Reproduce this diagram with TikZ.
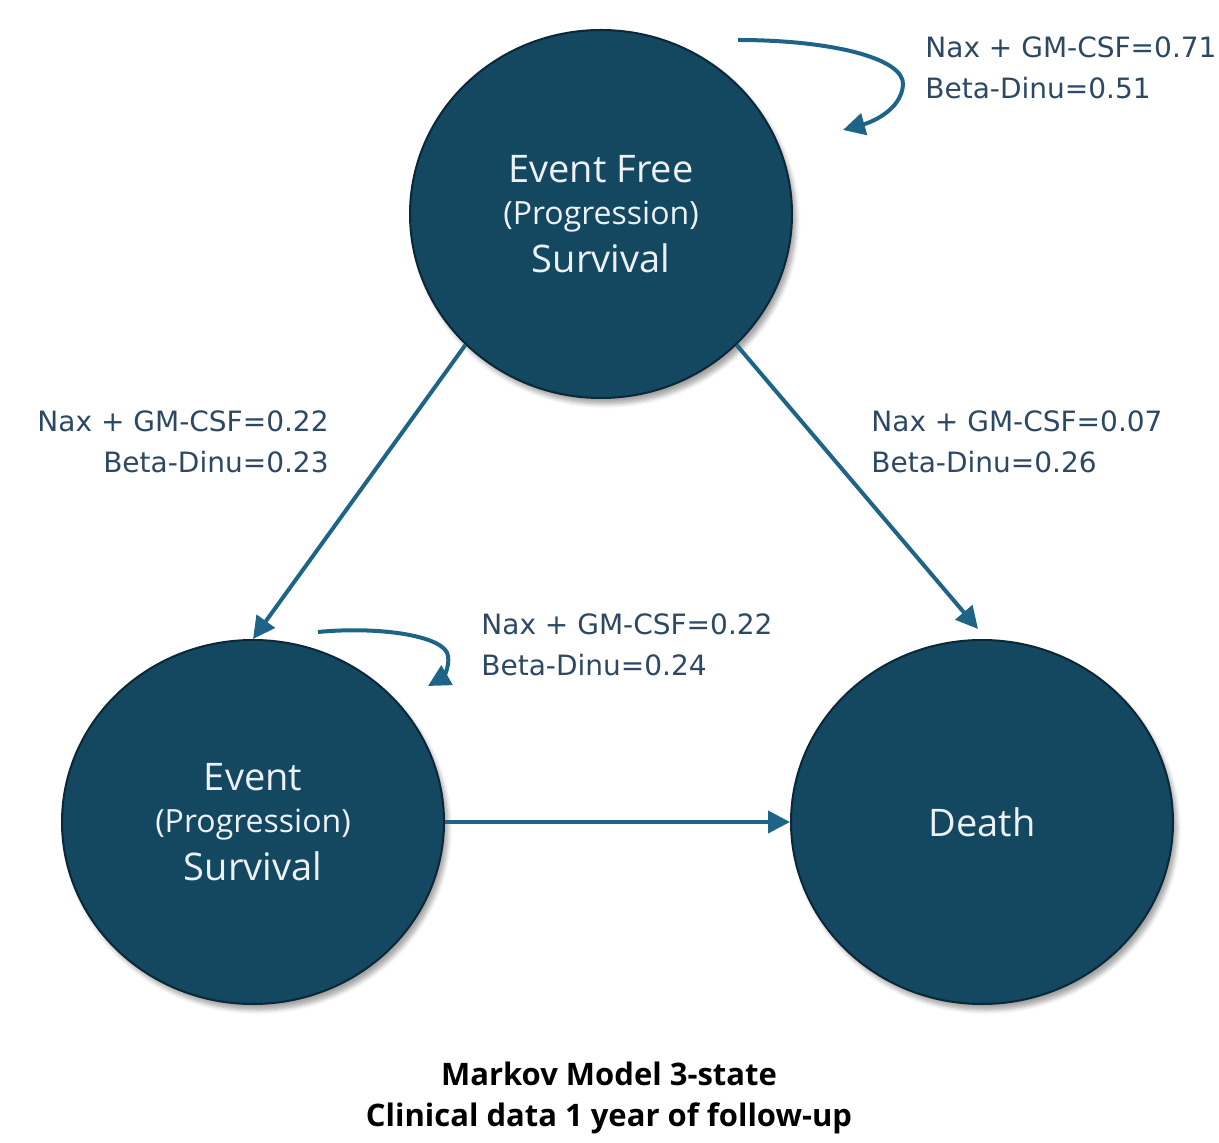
\documentclass[tikz,border=0pt]{standalone}
\usepackage{fontspec}
\setmainfont{Open Sans}
\newfontfamily\labelfont{DejaVu Sans}
\usetikzlibrary{shapes.geometric,arrows.meta,shadows.blur}
\definecolor{statefill}{RGB}{20,71,96}
\definecolor{stateedge}{RGB}{10,40,56}
\definecolor{arrowc}{RGB}{30,100,135}
\definecolor{labelc}{RGB}{45,72,100}
\definecolor{statetext}{RGB}{236,241,245}
\begin{document}
\begin{tikzpicture}[x=0.5pt,y=-0.5pt,
  state/.style={ellipse, fill=statefill, draw=stateedge, line width=1pt,
    minimum width=191pt, minimum height=182pt, inner sep=0pt,
    text=statetext, align=center, font=\fontsize{19}{21}\selectfont,
    blur shadow={shadow xshift=2pt, shadow yshift=-3pt, shadow blur steps=6, shadow opacity=35}},
  conn/.style={draw=arrowc, line width=2pt, -{Triangle[length=11pt,width=11pt]}},
  lbl/.style={text=labelc, font=\labelfont\fontsize{14}{20.5}\selectfont, inner sep=0pt},
  ttl/.style={text=black, font=\bfseries\fontsize{15.5}{20.5}\selectfont, inner sep=0pt, align=center}
]
\useasboundingbox (0,0) rectangle (1219,1143);

\node[state, minimum height=184pt] (efs) at (601,214)
  {Event Free\\
   {\fontsize{16}{21}\selectfont (Progression)}\\[3pt]
   Survival};
\node[state] (ev) at (253,822)
  {Event\\
   {\fontsize{16}{21}\selectfont (Progression)}\\[3pt]
   Survival};
\node[state] (death) at (982,822) {Death};

% transitions
\draw[conn] (efs.224) -- (ev.north);
\draw[conn] (efs.316) -- ([xshift=-2pt,yshift=5pt]death.north);
\draw[conn] (ev.east) -- (death.west);

% self loops
\coordinate (l1s) at (738,40);
\coordinate (l1m) at (903,85);
\coordinate (l1e) at (843,130);
\draw[conn] (l1s) .. controls (830,40) and (905,58) .. (l1m)
  .. controls (901,110) and (872,122) .. (l1e);
\coordinate (l2s) at (318,632);
\coordinate (l2m) at (448,656);
\coordinate (l2e) at (428,686);
\draw[conn] (l2s) .. controls (380,626) and (446,636) .. (l2m)
  .. controls (450,668) and (442,678) .. (l2e);

% labels (base anchor = baseline of last line)
\node[lbl, anchor=base west, align=left] (lab1) at (925,99)
  {Nax + GM-CSF=0.71\\Beta-Dinu=0.51};
\node[lbl, anchor=base east, align=right] (lab2) at (329,473)
  {Nax + GM-CSF=0.22\\Beta-Dinu=0.23};
\node[lbl, anchor=base west, align=left] (lab3) at (871,473)
  {Nax + GM-CSF=0.07\\Beta-Dinu=0.26};
\node[lbl, anchor=base west, align=left] (lab4) at (481,675)
  {Nax + GM-CSF=0.22\\Beta-Dinu=0.24};

\node[ttl, anchor=base] (title) at (609,1126)
  {Markov Model 3-state\\Clinical data 1 year of follow-up};
\end{tikzpicture}
\end{document}
